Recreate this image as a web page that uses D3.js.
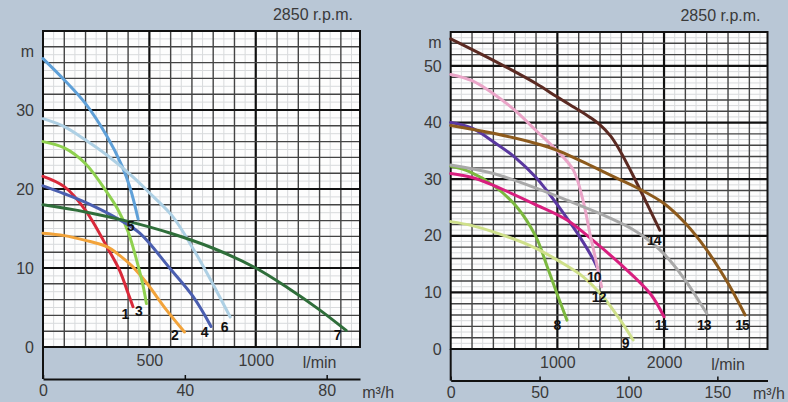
<!DOCTYPE html>
<meta charset="utf-8">
<script src="https://d3js.org/d3.v7.min.js"></script>
<style>
  body { margin: 0; background: #b9c7d6; }
  svg { display: block; font-family: "Liberation Sans", Arial, sans-serif; }
</style>
<div id="chart"></div>
<script>

// pump curves, each point is [flow in l/min, head in m]
var curve1 = [[0,21.6],[100,20.3],[200,17.3],[300,12.7],[360,9.7],[400,6.8],[423,5.1]];
var curve2 = [[0,14.4],[100,14.1],[200,13.5],[300,12.7],[360,11.6],[420,10.2],[490,8.0],[580,4.7],[665,1.9]];
var curve3 = [[0,26.0],[100,25.2],[200,23.2],[300,19.6],[350,17.5],[400,14.6],[440,11.0],[470,7.8],[486,5.5]];
var curve4 = [[0,20.4],[100,19.4],[200,18.3],[360,16.1],[455,14.4],[595,10.0],[705,6.4],[790,2.6]];
var curve5 = [[0,36.5],[100,33.8],[200,30.8],[300,26.7],[370,23.0],[410,20.1],[447,16.2]];
var curve6 = [[0,28.9],[100,27.9],[200,26.2],[300,24.3],[420,21.6],[520,19.0],[610,16.5],[700,12.7],[780,8.9],[880,3.8]];
var curve7 = [[0,18.0],[200,17.1],[400,15.9],[600,14.4],[800,12.5],[1000,10.0],[1150,7.5],[1300,4.7],[1425,2.1]];

var curve8 = [[0,32.3],[180,31.3],[400,28.9],[620,25.1],[800,19.8],[900,14.8],[1000,9.6],[1090,5.1]];
var curve9 = [[0,22.5],[200,21.8],[400,20.7],[775,18.0],[1000,15.7],[1240,12.8],[1430,9.2],[1590,5.1],[1710,1.6]];
var curve10 = [[0,40.0],[200,39.0],[400,36.6],[600,33.9],[800,30.3],[900,28.0],[1060,23.9],[1210,19.8],[1340,15.7],[1370,14.5]];
var curve11 = [[0,31.0],[200,30.3],[400,28.9],[775,25.7],[1090,22.8],[1370,18.6],[1620,14.5],[1870,9.8],[2000,5.7]];
var curve12 = [[0,48.5],[200,47.4],[400,45.1],[600,42.2],[800,38.6],[1000,35.0],[1150,31.6],[1240,26.3],[1305,20.4],[1368,15.1],[1415,11.0]];
var curve13 = [[0,32.5],[400,31.0],[775,28.6],[1090,26.3],[1400,23.9],[1700,21.2],[1850,19.3],[2000,16.8],[2190,12.4],[2400,6.3]];
var curve14 = [[0,54.8],[400,51.0],[800,46.9],[1000,44.5],[1200,42.2],[1300,41.0],[1400,39.6],[1500,37.6],[1600,34.6],[1700,31.0],[1800,27.2],[1960,21.0]];
var curve15 = [[0,39.5],[400,38.1],[800,36.3],[1000,35.1],[1200,33.4],[1400,31.6],[1600,29.8],[1755,28.4],[2000,25.7],[2200,22.2],[2400,17.5],[2600,11.6],[2760,6.0]];

var leftNames  = ["1", "2", "3", "4", "5", "6", "7"];
var rightNames = ["8", "9", "10", "11", "12", "13", "14", "15"];

var leftHeadTicks  = [0, 10, 20, 30];
var rightHeadTicks = [0, 10, 20, 30, 40, 50];
var leftFlowTicks  = [500, 1000];
var rightFlowTicks = [1000, 2000];
var leftCubicTicks  = [0, 40, 80];
var rightCubicTicks = [0, 50, 100, 150];
var speedText = "2850 r.p.m.";

var width = 788, height = 402;

var svg = d3.select("#chart").append("svg")
    .attr("width", width)
    .attr("height", height);

svg.append("rect").attr("width", width).attr("height", height).attr("fill", "#b9c7d6");

var panels = [
  { left: 43, right: 360, top: 31, bottom: 347, cubicY: 379,
    xMax: 1490, yMax: 40, stepX: 100, majorX: 500,
    curves: [curve1, curve2, curve3, curve4, curve5, curve6, curve7], names: leftNames,
    colors: ["#d9293a", "#f2a33a", "#8fd14f", "#4b5fb0", "#5fa0d8", "#aed0e4", "#2f6e3a"],
    offsets: [[-8,7], [-10,3], [-8,7], [-7,5], [-8,7], [-6,10], [-9,5]],
    headTicks: leftHeadTicks, flowTicks: leftFlowTicks, cubicTicks: leftCubicTicks,
    unitHead: 37.3, unitFlow: 1300, unitCubic: 90 },
  { left: 450.7, right: 767.5, top: 32, bottom: 349, cubicY: 380.5,
    xMax: 2970, yMax: 56, stepX: 200, majorX: 1000,
    curves: [curve8, curve9, curve10, curve11, curve12, curve13, curve14, curve15], names: rightNames,
    colors: ["#7cb83f", "#cfe08a", "#5a38a0", "#d81f7f", "#eaa5c8", "#a9a9a9", "#5b2a22", "#8d5a1c"],
    offsets: [[-10,5], [-8,3], [-3,10], [-3,8], [-3,10], [-3,12], [-6,10], [-3,10]],
    headTicks: rightHeadTicks, flowTicks: rightFlowTicks, cubicTicks: rightCubicTicks,
    unitHead: 54, unitFlow: 2600, unitCubic: 170 }
];

panels.forEach(drawPanel);

function drawPanel(p) {
  var x = d3.scaleLinear().domain([0, p.xMax]).range([p.left, p.right]);
  var y = d3.scaleLinear().domain([0, p.yMax]).range([p.bottom, p.top]);
  // 1 l/min = 0.06 m3/h
  var q = d3.scaleLinear().domain([0, p.xMax * 0.06]).range([p.left, p.right]);

  var g = svg.append("g");

  g.append("rect")
      .attr("x", p.left).attr("y", p.top)
      .attr("width", p.right - p.left).attr("height", p.bottom - p.top)
      .attr("fill", "#fdfdfd");

  // faint paper lines
  g.selectAll(".fx").data(d3.range(p.stepX / 2, p.xMax, p.stepX))
    .enter().append("line")
      .attr("x1", d => x(d)).attr("x2", d => x(d))
      .attr("y1", p.top).attr("y2", p.bottom)
      .attr("stroke", "#d8dadc").attr("stroke-width", 1);
  g.selectAll(".fy").data(d3.range(1, p.yMax, 2))
    .enter().append("line")
      .attr("x1", p.left).attr("x2", p.right)
      .attr("y1", d => y(d)).attr("y2", d => y(d))
      .attr("stroke", "#d8dadc").attr("stroke-width", 1);

  // grid
  g.selectAll(".gx").data(d3.range(p.stepX, p.xMax, p.stepX))
    .enter().append("line")
      .attr("x1", d => x(d)).attr("x2", d => x(d))
      .attr("y1", p.top).attr("y2", p.bottom)
      .attr("stroke", d => d % p.majorX == 0 ? "#111" : "#444")
      .attr("stroke-width", d => d % p.majorX == 0 ? 2.2 : 1.4);
  g.selectAll(".gy").data(d3.range(2, p.yMax, 2))
    .enter().append("line")
      .attr("x1", p.left).attr("x2", p.right)
      .attr("y1", d => y(d)).attr("y2", d => y(d))
      .attr("stroke", d => d % 10 == 0 ? "#111" : "#444")
      .attr("stroke-width", d => d % 10 == 0 ? 2.2 : 1.4);

  g.append("rect")
      .attr("x", p.left).attr("y", p.top)
      .attr("width", p.right - p.left).attr("height", p.bottom - p.top)
      .attr("fill", "none").attr("stroke", "#111").attr("stroke-width", 2);

  // curves
  var line = d3.line()
      .x(d => x(d[0]))
      .y(d => y(d[1]))
      .curve(d3.curveCatmullRom.alpha(0.5));

  g.selectAll(".curve").data(p.curves)
    .enter().append("path")
      .attr("d", line)
      .attr("fill", "none")
      .attr("stroke", (d, i) => p.colors[i])
      .attr("stroke-width", 3)
      .attr("stroke-linecap", "round");

  g.selectAll(".num").data(p.curves)
    .enter().append("text")
      .attr("x", (d, i) => x(d[d.length - 1][0]) + p.offsets[i][0])
      .attr("y", (d, i) => y(d[d.length - 1][1]) + p.offsets[i][1])
      .attr("dy", "0.36em")
      .attr("text-anchor", "middle")
      .style("font-size", "14px")
      .style("font-weight", "bold")
      .style("letter-spacing", "-1px")
      .attr("fill", "#111")
      .text((d, i) => p.names[i]);

  // head axis
  var yAxis = g.append("g")
      .attr("transform", "translate(" + p.left + ",0)")
      .call(d3.axisLeft(y).tickValues(p.headTicks).tickSize(0).tickPadding(9));
  yAxis.select(".domain").remove();
  yAxis.selectAll("text").style("font-size", "16px").attr("fill", "#3a3a3a").style("font-family", "inherit");

  g.append("text")
      .attr("x", p.left - 9).attr("y", y(p.unitHead))
      .attr("dy", "0.32em")
      .attr("text-anchor", "end")
      .style("font-size", "16px").attr("fill", "#3a3a3a")
      .text("m");

  // l/min labels
  var xAxis = g.append("g")
      .attr("transform", "translate(0," + p.bottom + ")")
      .call(d3.axisBottom(x).tickValues(p.flowTicks).tickFormat(d3.format("d")).tickSize(0).tickPadding(8));
  xAxis.select(".domain").remove();
  xAxis.selectAll("text").style("font-size", "16px").attr("fill", "#3a3a3a").style("font-family", "inherit");

  g.append("text")
      .attr("x", x(p.unitFlow)).attr("y", p.bottom + 15)
      .attr("dy", "0.35em")
      .attr("text-anchor", "middle")
      .style("font-size", "16px").attr("fill", "#3a3a3a")
      .text("l/min");

  // m3/h axis
  g.append("line")
      .attr("x1", p.left).attr("x2", p.left)
      .attr("y1", p.bottom).attr("y2", p.cubicY)
      .attr("stroke", "#111").attr("stroke-width", 2);

  var qAxis = g.append("g")
      .attr("transform", "translate(0," + p.cubicY + ")")
      .call(d3.axisBottom(q).tickValues(p.cubicTicks).tickFormat(d3.format("d")).tickSizeInner(-4).tickSizeOuter(0).tickPadding(6));
  qAxis.select(".domain").attr("stroke", "#111").attr("stroke-width", 1.8);
  qAxis.selectAll(".tick line").attr("stroke", "#111").attr("stroke-width", 1.5);
  qAxis.selectAll("text").style("font-size", "16px").attr("fill", "#3a3a3a").style("font-family", "inherit");

  g.append("text")
      .attr("x", q(p.unitCubic)).attr("y", p.cubicY + 13)
      .attr("dy", "0.35em")
      .style("font-size", "16px").attr("fill", "#3a3a3a")
      .text("m³/h");

  g.append("text")
      .attr("x", p.right - 7).attr("y", p.top - 11)
      .attr("text-anchor", "end")
      .style("font-size", "16px").attr("fill", "#3a3a3a")
      .text(speedText);
}

</script>
